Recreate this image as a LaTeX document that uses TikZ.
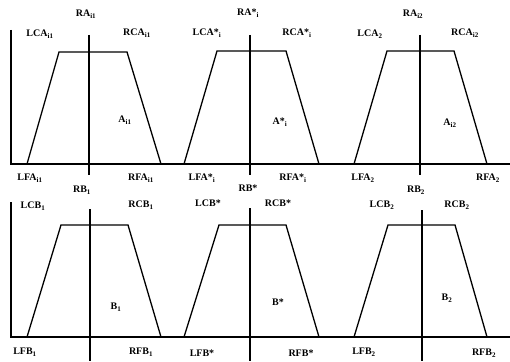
\documentclass[tikz,border=0pt]{standalone}
\usepackage{fontspec}
\setmainfont{Liberation Serif}
\newcommand{\sbx}[1]{\textsubscript{#1}}
\begin{document}
\begin{tikzpicture}[x=1pt,y=-1pt,
  axis/.style={line width=1.2pt},
  trap/.style={line width=1.3pt, line join=miter},
  lbl/.style={font=\fontsize{10}{11}\selectfont\bfseries, inner sep=0pt}]
\useasboundingbox (0,0) rectangle (510,361);
% ---- top row ----
\coordinate (ta0) at (11,30);
\coordinate (tb0) at (11,164);
\coordinate (te0) at (510,164);
\draw[axis] (ta0) -- (tb0) -- (te0);
% panel 1
\coordinate (p1a) at (27,164); \coordinate (p1b) at (59,52);
\coordinate (p1c) at (127,52); \coordinate (p1d) at (161,164);
\draw[trap] (p1a) -- (p1b) -- (p1c) -- (p1d);
\coordinate (v1t) at (89,35); \coordinate (v1b) at (89,175);
\draw[axis] (v1t) -- (v1b);
% panel 2
\coordinate (p2a) at (184,164); \coordinate (p2b) at (217,51);
\coordinate (p2c) at (286,51); \coordinate (p2d) at (319,164);
\draw[trap] (p2a) -- (p2b) -- (p2c) -- (p2d);
\coordinate (v2t) at (250,35); \coordinate (v2b) at (250,175);
\draw[axis] (v2t) -- (v2b);
% panel 3
\coordinate (p3a) at (354,164); \coordinate (p3b) at (387,51);
\coordinate (p3c) at (454,51); \coordinate (p3d) at (487,164);
\draw[trap] (p3a) -- (p3b) -- (p3c) -- (p3d);
\coordinate (v3t) at (420,35); \coordinate (v3b) at (420,175);
\draw[axis] (v3t) -- (v3b);
% ---- bottom row ----
\coordinate (ba0) at (11,202);
\coordinate (bb0) at (11,337);
\coordinate (be0) at (510,337);
\draw[axis] (ba0) -- (bb0) -- (be0);
\coordinate (q1a) at (27,337); \coordinate (q1b) at (61,225);
\coordinate (q1c) at (128,225); \coordinate (q1d) at (161,337);
\draw[trap] (q1a) -- (q1b) -- (q1c) -- (q1d);
\coordinate (w1t) at (90,209); \coordinate (w1b) at (90,361);
\draw[axis] (w1t) -- (w1b);
\coordinate (q2a) at (184,337); \coordinate (q2b) at (219,225);
\coordinate (q2c) at (286,225); \coordinate (q2d) at (319,337);
\draw[trap] (q2a) -- (q2b) -- (q2c) -- (q2d);
\coordinate (w2t) at (250,208); \coordinate (w2b) at (250,361);
\draw[axis] (w2t) -- (w2b);
\coordinate (q3a) at (354,337); \coordinate (q3b) at (388,225);
\coordinate (q3c) at (455,225); \coordinate (q3d) at (487,337);
\draw[trap] (q3a) -- (q3b) -- (q3c) -- (q3d);
\coordinate (w3t) at (422,210); \coordinate (w3b) at (422,361);
\draw[axis] (w3t) -- (w3b);
% ---- labels top ----
\node[lbl] (ra1) at (86,14) {RA\sbx{i1}};
\node[lbl] (lca1) at (40,34) {LCA\sbx{i1}};
\node[lbl] (rca1) at (137,33) {RCA\sbx{i1}};
\node[lbl] (a1) at (125,120) {A\sbx{i1}};
\node[lbl] (lfa1) at (30,178) {LFA\sbx{i1}};
\node[lbl] (rfa1) at (141,178) {RFA\sbx{i1}};
\node[lbl] (ra2) at (248,13) {RA*\sbx{i}};
\node[lbl] (lca2) at (207,33) {LCA*\sbx{i}};
\node[lbl] (rca2) at (297,33) {RCA*\sbx{i}};
\node[lbl] (a2) at (280,122) {A*\sbx{i}};
\node[lbl] (lfa2) at (202,178) {LFA*\sbx{i}};
\node[lbl] (rfa2) at (293,178) {RFA*\sbx{i}};
\node[lbl] (ra3) at (413,14) {RA\sbx{i2}};
\node[lbl] (lca3) at (370,34) {LCA\sbx{2}};
\node[lbl] (rca3) at (465,33) {RCA\sbx{i2}};
\node[lbl] (a3) at (450,123) {A\sbx{i2}};
\node[lbl] (lfa3) at (363,178) {LFA\sbx{2}};
\node[lbl] (rfa3) at (488,178) {RFA\sbx{2}};
% ---- labels bottom ----
\node[lbl] (rb1) at (82,190) {RB\sbx{1}};
\node[lbl] (lcb1) at (33,206) {LCB\sbx{1}};
\node[lbl] (rcb1) at (141,205) {RCB\sbx{1}};
\node[lbl] (b1) at (116,307) {B\sbx{1}};
\node[lbl] (lfb1) at (25,352) {LFB\sbx{1}};
\node[lbl] (rfb1) at (141,352) {RFB\sbx{1}};
\node[lbl] (rb2) at (248,188) {RB*};
\node[lbl] (lcb2) at (208,203) {LCB*};
\node[lbl] (rcb2) at (278,203) {RCB*};
\node[lbl] (b2) at (278,302) {B*};
\node[lbl] (lfb2) at (202,353) {LFB*};
\node[lbl] (rfb2) at (301,353) {RFB*};
\node[lbl] (rb3) at (416,190) {RB\sbx{2}};
\node[lbl] (lcb3) at (382,205) {LCB\sbx{2}};
\node[lbl] (rcb3) at (457,205) {RCB\sbx{2}};
\node[lbl] (b3) at (447,298) {B\sbx{2}};
\node[lbl] (lfb3) at (364,352) {LFB\sbx{2}};
\node[lbl] (rfb3) at (484,353) {RFB\sbx{2}};
\end{tikzpicture}
\end{document}
